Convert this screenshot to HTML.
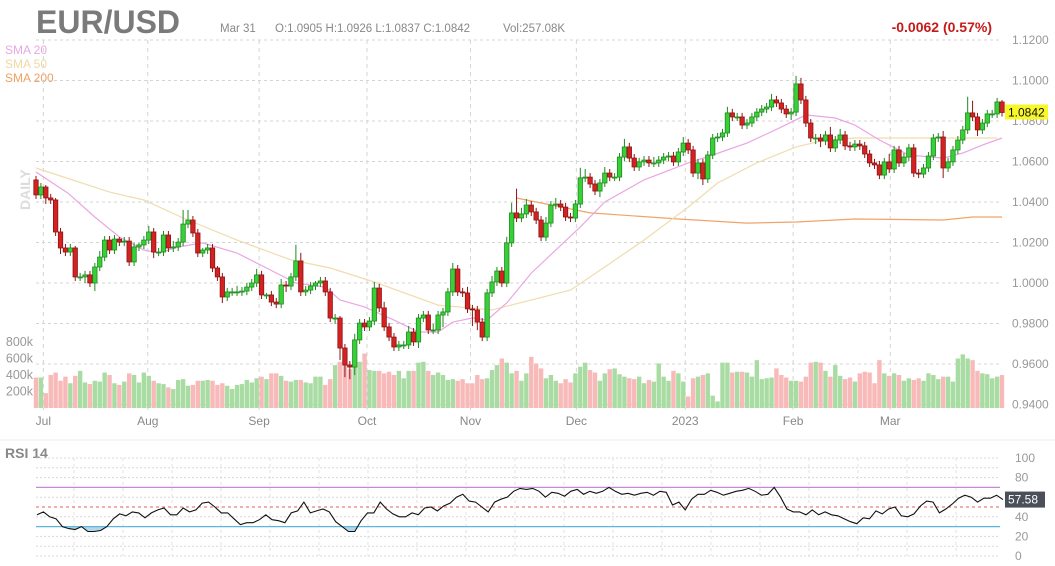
<!DOCTYPE html>
<html><head><meta charset="utf-8">
<style>
html,body{margin:0;padding:0;background:#fff;}
svg{display:block;font-family:"Liberation Sans",Arial,sans-serif;}
</style></head>
<body>
<svg id="chart" width="1055" height="566" viewBox="0 0 1055 566">
  <g>
    <text x="36" y="33" font-size="32" font-weight="bold" fill="#7a7a7a">EUR/USD</text>
    <text x="220" y="32" font-size="11.5" fill="#888">Mar 31</text>
    <text x="275" y="32" font-size="11.5" fill="#888">O:1.0905  H:1.0926  L:1.0837  C:1.0842</text>
    <text x="503" y="32" font-size="11.5" fill="#888">Vol:257.08K</text>
    <text x="992" y="32" font-size="14" font-weight="bold" fill="#c41a1a" text-anchor="end">-0.0062 (0.57%)</text>
  </g>
  <g>
    <text x="5" y="54" font-size="12" fill="#e8a8e2">SMA 20</text>
    <text x="5" y="68" font-size="12" fill="#efd8a4">SMA 50</text>
    <text x="5" y="82" font-size="12" fill="#f0a060">SMA 200</text>
  </g>
  <text x="0" y="0" transform="translate(30,210) rotate(-90)" font-size="14" font-weight="bold" fill="#dcdcdc">DAILY</text>
  <g id="grid"></g>
  <g id="vol"></g>
  <g id="sma"></g>
  <g id="candles"></g>
  <g id="axes"></g>
  <line x1="0" y1="440" x2="1055" y2="440" stroke="#eee" stroke-width="1"/>
  <text x="5" y="458" font-size="14" font-weight="bold" fill="#888">RSI 14</text>
  <g id="rsi"></g>
</svg>
<script>
const closes=[1.0435,1.0474,1.0420,1.0410,1.0252,1.0173,1.0153,1.0173,1.0030,1.0030,
1.0040,1.0000,1.0079,1.0128,1.0212,1.0163,1.0217,1.0202,1.0207,1.0104,
1.0178,1.0188,1.0212,1.0252,1.0153,1.0153,1.0237,1.0173,1.0178,1.0202,
1.0291,1.0311,1.0247,1.0148,1.0163,1.0173,1.0074,1.0030,0.9931,0.9956,
0.9956,0.9956,0.9960,0.9980,1.0000,1.0040,0.9941,0.9941,0.9906,0.9896,
0.9990,0.9985,1.0030,1.0109,0.9956,0.9965,0.9985,1.0000,1.0010,0.9956,
0.9827,0.9827,0.9679,0.9595,0.9585,0.9719,0.9802,0.9783,0.9812,0.9975,
0.9877,0.9783,0.9733,0.9684,0.9694,0.9694,0.9758,0.9709,0.9827,0.9842,
0.9768,0.9768,0.9842,0.9857,0.9956,1.0069,0.9956,0.9951,0.9872,0.9867,
0.9807,0.9733,0.9951,1.0005,1.0059,1.0000,1.0198,1.0346,1.0321,1.0341,
1.0385,1.0351,1.0311,1.0227,1.0296,1.0385,1.0390,1.0375,1.0326,1.0321,
1.0390,1.0519,1.0523,1.0489,1.0454,1.0494,1.0543,1.0523,1.0523,1.0622,
1.0672,1.0617,1.0573,1.0598,1.0607,1.0593,1.0593,1.0607,1.0622,1.0627,
1.0598,1.0647,1.0691,1.0657,1.0543,1.0593,1.0514,1.0632,1.0716,1.0721,
1.0741,1.0840,1.0820,1.0820,1.0780,1.0790,1.0820,1.0844,1.0859,1.0869,
1.0904,1.0889,1.0859,1.0835,1.0844,1.0983,1.0904,1.0790,1.0716,1.0716,
1.0701,1.0731,1.0667,1.0706,1.0731,1.0677,1.0672,1.0686,1.0677,1.0637,
1.0593,1.0583,1.0533,1.0598,1.0563,1.0657,1.0593,1.0622,1.0667,1.0543,
1.0538,1.0568,1.0627,1.0716,1.0721,1.0568,1.0598,1.0657,1.0706,1.0756,
1.0840,1.0820,1.0756,1.0790,1.0835,1.0835,1.0894,1.0842];
const firstOpen=1.0509;
const upperWick=[2,2,1,2,1,2,2,2,1,2, 2,2,2,3,2,2,2,1,2,2, 2,1,2,3,2,2,2,2,3,2, 7,5,2,2,1,2,2,1,2,2,
2,3,2,2,2,3,2,1,2,2, 3,2,2,8,4,2,2,1,2,2, 2,2,1,2,2,3,2,2,2,3, 2,3,2,2,2,2,3,2,2,2,
2,3,2,2,2,3,2,2,3,2, 2,2,2,3,2,2,3,5,12,3, 3,2,2,2,3,2,3,2,2,2, 2,5,4,2,2,2,3,2,2,2,
4,2,2,2,2,2,3,2,2,2, 2,2,3,2,2,2,2,2,2,2, 2,3,2,2,2,2,2,2,2,2, 3,2,2,2,2,4,3,2,2,2,
2,2,4,2,3,2,2,2,2,2, 2,2,2,2,4,2,2,2,2,2, 2,2,2,2,2,3,2,2,2,2, 8,6,2,2,2,2,2,1];
const lowerWick=[2,2,3,2,2,3,2,2,2,2, 3,2,4,2,2,2,2,2,2,2, 2,2,2,2,3,2,2,2,2,2, 2,2,2,2,2,2,2,2,3,2,
2,2,2,2,2,2,2,2,2,2, 2,3,2,2,2,2,2,2,2,2, 2,3,6,6,6,4,2,2,2,2, 2,2,2,2,2,2,2,2,3,2,
2,2,2,6,2,2,2,2,2,8, 4,2,2,2,2,2,2,2,2,2, 2,2,2,2,2,2,2,2,2,2, 2,2,2,2,2,3,2,2,2,2,
2,2,2,2,2,2,2,2,2,2, 2,2,2,2,2,3,3,2,2,2, 2,2,2,2,2,2,2,2,2,2, 2,2,2,2,3,2,2,2,2,3,
3,2,2,2,2,2,2,2,2,2, 2,2,2,2,2,2,2,2,2,2, 2,2,2,2,2,5,2,2,2,2, 2,2,3,2,2,2,2,2];
const volumes=[370,370,180,400,430,330,380,300,390,450, 310,290,330,320,430,400,300,280,320,420,
400,310,430,390,330,300,290,250,230,340, 350,270,280,330,330,340,330,280,300,270,
230,280,290,340,310,360,380,350,420,420, 390,330,320,340,340,310,300,380,380,280,
350,520,560,600,470,520,560,660,460,450, 450,420,440,400,450,360,450,450,550,560,
450,400,430,400,340,350,330,350,300,300, 400,350,360,460,520,600,550,420,450,330,
420,620,540,480,360,400,330,300,350,310, 420,500,550,460,430,330,420,470,480,410,
380,360,350,380,300,340,320,540,380,330, 450,420,320,140,360,380,400,420,150,80,
550,550,430,440,440,430,380,580,350,360, 370,480,400,370,330,330,320,380,550,560,
550,450,380,520,390,350,370,320,420,440, 430,300,580,420,390,420,400,330,360,340,
360,330,420,400,350,380,380,320,600,650, 600,580,450,420,410,360,380,400,340,290,
280,280,290,290,300,310,280,300];
const sma20Idx=[0,6.5,12,17,22,25,29,34,41,47,53,59,62,67,73,78,82,85,89,92,96,101,111,116,124,133,138,145,152,157,163,167,172,178,185,189,193,197];
const sma20Val=[1.0548,1.0444,1.0326,1.0227,1.0163,1.0148,1.0178,1.0198,1.0148,1.0074,1.0000,0.9980,0.9916,0.9882,0.9817,0.9758,0.9758,0.9807,0.9827,0.9817,0.9901,1.0049,1.0277,1.0400,1.0509,1.0593,1.0632,1.0691,1.0770,1.0830,1.0815,1.0780,1.0706,1.0632,1.0617,1.0642,1.0681,1.0716];
const sma50Idx=[0,15,22,30,41,52,60,69,82,93,109,116,124,133,139,147,155,161,167,196];
const sma50Val=[1.0568,1.0449,1.0410,1.0321,1.0212,1.0114,1.0074,1.0005,0.9891,0.9867,0.9965,1.0079,1.0212,1.0375,1.0494,1.0593,1.0672,1.0706,1.0716,1.0716];
const sma200Idx=[98,113,131,145,155,167,185,191,197];
const sma200Val=[1.0420,1.0346,1.0316,1.0296,1.0301,1.0316,1.0311,1.0326,1.0326];
const priceTicks=[1.12,1.10,1.08,1.06,1.04,1.02,1.00,0.98,0.96,0.94];
const volTicks=[800,600,400,200];
const monthLabels=["Jul","Aug","Sep","Oct","Nov","Dec","2023","Feb","Mar"];
const monthIdx=[1.5,22.8,45.5,67.5,88.6,110.2,132.4,154.4,174.2];
const rsiVals=[42,45,40,38,30,28,27,30,25,25,26,30,38,43,41,45,44,39,44,47,49,42,42,49,45,47,54,55,50,44,44,38,32,34,34,37,42,37,36,34,44,46,55,44,46,48,45,35,30,25,25,36,44,44,55,48,43,40,40,44,42,49,50,46,51,54,60,63,56,55,50,45,55,58,60,66,69,68,69,66,60,65,64,61,66,68,63,66,64,66,70,66,63,64,62,64,65,62,66,65,52,55,47,58,63,63,67,65,62,64,66,67,69,66,62,63,70,60,48,45,45,42,47,42,45,42,41,38,35,33,39,38,46,43,48,50,41,40,43,51,56,55,44,48,53,59,62,60,55,59,59,62,57.58];
const rsiTicks=[100,80,60,40,20,0];

const NS="http://www.w3.org/2000/svg";
function mk(tag,attrs,parent){const e=document.createElementNS(NS,tag);for(const k in attrs)e.setAttribute(k,attrs[k]);parent.appendChild(e);return e;}
const N=closes.length;
const xI=i=>36+i*(1002-36)/(N-1);
const yP=p=>40+(1.12-p)*2025;
const yV=v=>408-v*0.0825;
const M=rsiVals.length;
const xR=i=>37+i*(1003-37)/(M-1);
const yR=v=>556-v*0.98;

const grid=document.getElementById('grid');
const axes=document.getElementById('axes');
priceTicks.forEach(p=>{
  const l=mk('line',{x1:36,x2:1000,y1:yP(p),y2:yP(p),stroke:'#d4d4d4','stroke-dasharray':'3,3'},grid);
  
  
  const t=mk('text',{x:1012,y:yP(p)+4,'font-size':12,fill:'#999'},axes);
  t.textContent=p.toFixed(4);
  
  
});
monthLabels.forEach((m,k)=>{
  const x=xI(monthIdx[k]);
  const l=mk('line',{x1:x,x2:x,y1:40,y2:410,stroke:'#d4d4d4','stroke-dasharray':'4,4'},grid);
  
  
  const t=mk('text',{x:x,y:425,'font-size':12,fill:'#888','text-anchor':'middle'},axes);
  t.textContent=m;
  
  
});
volTicks.forEach(v=>{
  const t=mk('text',{x:33,y:yV(v)+4,'font-size':12.5,fill:'#999','text-anchor':'end'},axes);
  t.textContent=v+'k';
  
  
});

const volG=document.getElementById('vol');
const cG=document.getElementById('candles');
for(let i=0;i<N;i++){
  const o=i===0?firstOpen:closes[i-1], c=closes[i];
  const up=c>=o;
  const x=xI(i);
  const v=volumes[i]||300;
  const vb=mk('rect',{x:x-2.2,y:yV(v),width:4.4,height:408-yV(v),fill:up?'#a9dca3':'#f8b9b9'},volG);
  
  
  const hi=Math.max(o,c)+(upperWick[i]||2)*0.001, lo=Math.min(o,c)-(lowerWick[i]||2)*0.001;
  const w=mk('line',{x1:x,x2:x,y1:yP(hi),y2:yP(lo),stroke:up?'#1f8a1f':'#8e1414','stroke-width':1},cG);
  
  
  const top=yP(Math.max(o,c)), h=Math.max(1,yP(Math.min(o,c))-top);
  const b=mk('rect',{x:x-2.2,y:top,width:4.4,height:h,fill:up?'#38d038':'#d42222',stroke:up?'#1f8a1f':'#8e1414','stroke-width':0.8},cG);
  
  
}

const smaG=document.getElementById('sma');
function smaLine(idx,val,color,name){
  const d=idx.map((ix,k)=>(k?'L':'M')+xI(ix).toFixed(1)+','+yP(val[k]).toFixed(1)).join(' ');
  const p=mk('path',{d:d,fill:'none',stroke:color,'stroke-width':1.2},smaG);
  
  
}
smaLine(sma200Idx,sma200Val,'#f0a468','sma200-line');
smaLine(sma50Idx,sma50Val,'#f0dcae','sma50-line');
smaLine(sma20Idx,sma20Val,'#eaa6e4','sma20-line');

const last=closes[N-1];
const badge=mk('rect',{x:1005,y:yP(last)-8,width:43,height:15,fill:'#f7f72a'},axes);


const bt=mk('text',{x:1008,y:yP(last)+4,'font-size':12,fill:'#111'},axes);
bt.textContent=last.toFixed(4);



const rG=document.getElementById('rsi');
for(let v=0;v<=100;v+=10){
  if(v===30||v===50||v===70)continue;
  const l=mk('line',{x1:36,x2:1000,y1:yR(v),y2:yR(v),stroke:'#d8d8d8','stroke-dasharray':'2,2'},rG);
  
  
}
for(let k=0;k<19;k++){
  const x=74+k*49;
  const l=mk('line',{x1:x,x2:x,y1:458,y2:556,stroke:'#e0e0e0','stroke-dasharray':'3,3'},rG);
  
  
}
const l70=mk('line',{x1:36,x2:1000,y1:yR(70),y2:yR(70),stroke:'#c68ad4','stroke-width':1.3},rG);


const l30=mk('line',{x1:36,x2:1000,y1:yR(30),y2:yR(30),stroke:'#5ab6da','stroke-width':1.3},rG);


const l50=mk('line',{x1:36,x2:1000,y1:yR(50),y2:yR(50),stroke:'#e06060','stroke-dasharray':'3,3'},rG);


const defs=mk('defs',{},rG);
const cp=mk('clipPath',{id:'below30'},defs);
mk('rect',{x:0,y:yR(30),width:1055,height:60},cp);
const pts=rsiVals.map((v,i)=>xR(i).toFixed(1)+','+yR(v).toFixed(1));
const area=mk('path',{d:'M'+xR(0)+','+yR(30)+' L'+pts.join(' L')+' L'+xR(M-1)+','+yR(30)+' Z',fill:'#6fb8d8','fill-opacity':0.55,'clip-path':'url(#below30)'},rG);


const rl=mk('path',{d:'M'+pts.join(' L'),fill:'none',stroke:'#111','stroke-width':1.1},rG);


rsiTicks.forEach(v=>{
  const t=mk('text',{x:1015,y:yR(v)+4,'font-size':12,fill:'#999'},rG);
  t.textContent=v;
  
  
});
const rv=rsiVals[M-1];
const rb=mk('rect',{x:1005,y:yR(rv)-8,width:40,height:16,fill:'#4a4f5a'},rG);


const rt=mk('text',{x:1008,y:yR(rv)+4,'font-size':12,fill:'#fff'},rG);
rt.textContent=rv.toFixed(2);


</script>
</body></html>
